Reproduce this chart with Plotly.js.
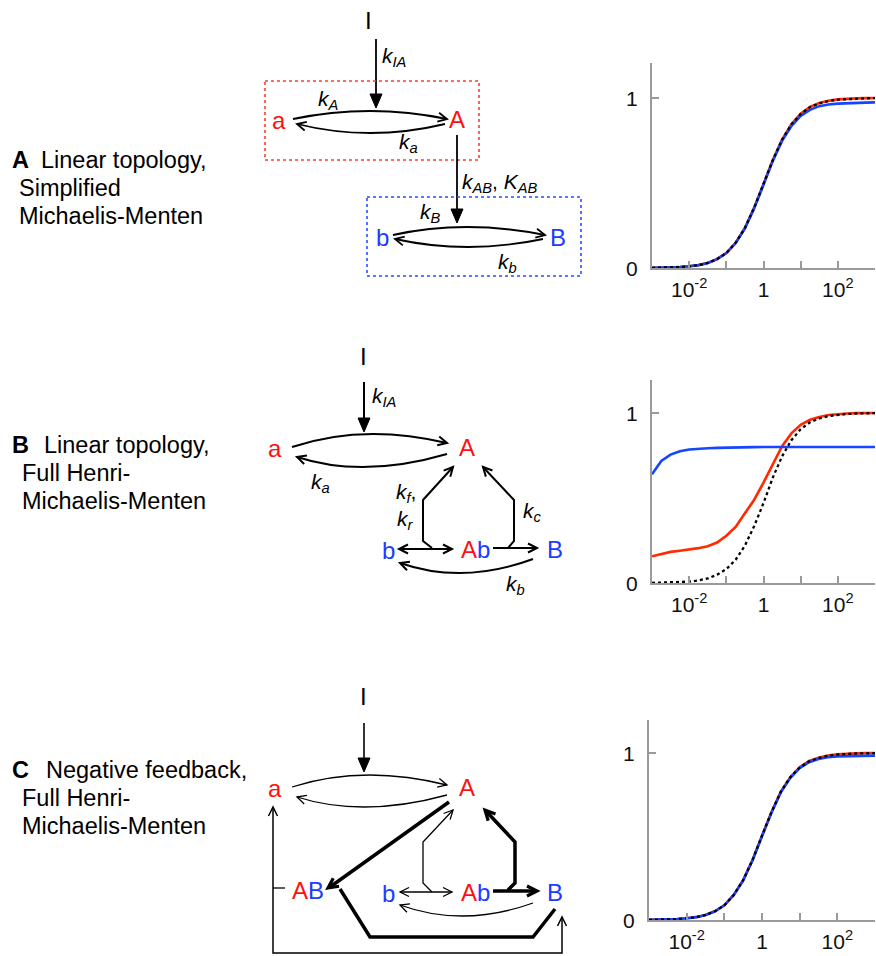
<!DOCTYPE html>
<html><head><meta charset="utf-8">
<script src="https://cdn.plot.ly/plotly-3.0.1.min.js"></script>
<style>html,body{margin:0;padding:0;background:#fff}</style>
</head><body><div id="plot" style="width:876px;height:956px"></div>
<script>
// ---------------- DATA ----------------
const inputX = [0.001,0.00178,0.00316,0.00562,0.01,0.0178,0.0316,0.0562,0.1,0.178,0.316,0.562,1,1.78,3.16,5.62,10,17.8,31.6,56.2,100,178,316,562,1000];
const tickVals = [0.01,0.1,1,10,100,1000];
const tickText = ['10<sup>-2</sup>','','1','','10<sup>2</sup>',''];
const yTickVals = [0,1];
const yTickText = ['0','1'];

const aRed   = [0.001,0.002,0.003,0.006,0.010,0.017,0.030,0.052,0.088,0.148,0.235,0.355,0.495,0.635,0.755,0.845,0.908,0.948,0.970,0.984,0.992,0.996,0.998,0.999,1.000];
const aBlue  = [0.001,0.002,0.003,0.006,0.010,0.017,0.030,0.052,0.088,0.147,0.233,0.352,0.490,0.630,0.748,0.835,0.895,0.930,0.952,0.962,0.967,0.970,0.972,0.973,0.974];
const aBlack = [0.001,0.002,0.003,0.006,0.010,0.017,0.030,0.052,0.088,0.148,0.235,0.355,0.495,0.635,0.755,0.845,0.906,0.946,0.968,0.982,0.990,0.994,0.997,0.998,0.999];

const bRed   = [0.157,0.172,0.183,0.190,0.196,0.205,0.216,0.238,0.278,0.330,0.410,0.490,0.590,0.700,0.805,0.880,0.930,0.960,0.977,0.988,0.994,0.997,0.999,1.000,1.000];
const bBlue  = [0.640,0.718,0.755,0.775,0.785,0.790,0.793,0.795,0.797,0.798,0.799,0.799,0.800,0.800,0.800,0.800,0.800,0.800,0.800,0.800,0.800,0.800,0.800,0.800,0.800];
const bBlack = [0.001,0.002,0.003,0.005,0.008,0.015,0.027,0.048,0.082,0.137,0.220,0.335,0.470,0.620,0.745,0.840,0.905,0.945,0.968,0.982,0.990,0.994,0.997,0.998,0.999];

const cRed   = [0.001,0.002,0.003,0.006,0.010,0.017,0.030,0.052,0.088,0.150,0.238,0.360,0.505,0.645,0.768,0.855,0.915,0.952,0.972,0.985,0.992,0.996,0.998,0.999,1.000];
const cBlue  = [0.001,0.002,0.003,0.006,0.010,0.017,0.030,0.052,0.088,0.150,0.237,0.358,0.502,0.642,0.764,0.850,0.910,0.945,0.964,0.975,0.980,0.982,0.983,0.984,0.984];
const cBlack = [0.001,0.002,0.003,0.006,0.010,0.017,0.030,0.052,0.088,0.150,0.238,0.360,0.505,0.645,0.768,0.855,0.913,0.950,0.970,0.983,0.991,0.995,0.997,0.998,0.999];

// ---------------- STYLE ----------------
const FONT = 'Liberation Sans, Arial, Helvetica, sans-serif';
const LRED = '#ff2a00', LBLUE = '#1446ff';
const TRED = '#ff1010', TBLUE = '#1a3cff';
const W = 876, H = 956;

function traces(xa, ya, r, b, k) {
  return [
    {x: inputX, y: r, xaxis: xa, yaxis: ya, mode: 'lines', line: {color: LRED, width: 2.6}, showlegend: false, hoverinfo: 'skip'},
    {x: inputX, y: b, xaxis: xa, yaxis: ya, mode: 'lines', line: {color: LBLUE, width: 2.6}, showlegend: false, hoverinfo: 'skip'},
    {x: inputX, y: k, xaxis: xa, yaxis: ya, mode: 'lines', line: {color: '#000', width: 2.3, dash: 'dot'}, showlegend: false, hoverinfo: 'skip'}
  ];
}
const data = [].concat(
  traces('x', 'y', aRed, aBlue, aBlack),
  traces('x2', 'y2', bRed, bBlue, bBlack),
  traces('x3', 'y3', cRed, cBlue, cBlack),
  [{x: [], y: [], xaxis: 'x4', yaxis: 'y4', type: 'scatter', showlegend: false, hoverinfo: 'skip'}]
);

function xAxis(l, r, anchor) {
  return {type: 'log', domain: [l / W, r / W], range: [-3, 3], anchor: anchor,
    showline: true, linecolor: '#9a9a9a', linewidth: 2, mirror: false,
    ticks: 'inside', ticklen: 7, tickwidth: 2, tickcolor: '#9a9a9a',
    tickvals: tickVals, ticktext: tickText, showgrid: false, zeroline: false,
    tickfont: {family: FONT, size: 21, color: '#111'}, ticklabelstandoff: 2, fixedrange: true};
}
function yAxis(top, y1, y0, anchor) {
  return {domain: [1 - y0 / H, 1 - top / H], range: [0, (y0 - top) / (y0 - y1)], anchor: anchor,
    showline: true, linecolor: '#9a9a9a', linewidth: 2,
    ticks: 'inside', ticklen: 7, tickwidth: 2, tickcolor: '#9a9a9a',
    tickvals: yTickVals, ticktext: yTickText, showgrid: false, zeroline: false,
    tickfont: {family: FONT, size: 21, color: '#111'}, ticklabelstandoff: 8, ticklabelshift: 1, fixedrange: true};
}

// ---------------- DIAGRAMS ----------------
const shapes = [], annos = [];
const R = {xref: 'x4', yref: 'y4'};
function poly(pts, w) {
  shapes.push(Object.assign({type: 'path', path: 'M' + pts.map(p => p[0] + ',' + p[1]).join(' L'),
    line: {color: '#000', width: w}}, R));
}
function quad(p0, c, p1, w) {
  shapes.push(Object.assign({type: 'path', path: `M${p0[0]},${p0[1]} Q${c[0]},${c[1]} ${p1[0]},${p1[1]}`,
    line: {color: '#000', width: w}}, R));
}
function head(tip, from, w, len, half, filled) {
  const dx = tip[0] - from[0], dy = tip[1] - from[1], L = Math.hypot(dx, dy);
  const ux = dx / L, uy = dy / L, bx = tip[0] - ux * len, by = tip[1] - uy * len, nx = -uy, ny = ux;
  const p = `M${bx + nx * half},${by + ny * half} L${tip[0]},${tip[1]} L${bx - nx * half},${by - ny * half}` + (filled ? ' Z' : '');
  const s = Object.assign({type: 'path', path: p, line: {color: '#000', width: filled ? 1 : w}}, R);
  if (filled) s.fillcolor = '#000';
  shapes.push(s);
}
function chev(tip, from, w, len, half) { head(tip, from, w, len || 9, half || 4.5, false); }
function tri(tip, from) { head(tip, from, 1, 14, 6, true); }
function box(x0, y0, x1, y1, col) {
  shapes.push(Object.assign({type: 'rect', x0: x0, y0: y0, x1: x1, y1: y1, line: {color: col, width: 1.6, dash: 'dot'}}, R));
}
function txt(x, y, t, size, col, anchor) {
  annos.push({x: x / W, y: 1 - y / H, xref: 'paper', yref: 'paper', text: t, showarrow: false,
    xanchor: anchor || 'center', yanchor: 'middle',
    borderpad: 0, borderwidth: 0, font: {family: FONT, size: size, color: col || '#000'}});
}
const red = s => `<span style="color:${TRED}">${s}</span>`;
const blue = s => `<span style="color:${TBLUE}">${s}</span>`;
const k = (main, sub) => `<i>${main}<sub>${sub}</sub></i>`;
const SP = 24, KS = 21, LS = 23.5;

// Panel labels
function label(y1, letter, l1, l2, l3, x1, x2) {
  txt(12, y1, '<b>' + letter + '</b>', LS, '#000', 'left');
  txt(x1, y1, l1, LS, '#000', 'left');
  txt(x2, y1 + 28, l2, LS, '#000', 'left');
  txt(x2, y1 + 56, l3, LS, '#000', 'left');
}
label(160, 'A', 'Linear topology,', 'Simplified', 'Michaelis-Menten', 41, 19);
label(445, 'B', 'Linear topology,', 'Full Henri-', 'Michaelis-Menten', 44, 22);
label(770, 'C', 'Negative feedback,', 'Full Henri-', 'Michaelis-Menten', 46, 22);

// Panel A diagram
txt(368, 21, 'I', SP);
poly([[376, 39], [376, 100]], 1.8); tri([376, 108], [376, 39]);
txt(382, 57, k('k', 'IA'), KS, '#000', 'left');
box(265, 81, 479, 160, '#ff3b2f');
txt(279, 120, red('a'), SP); txt(457, 119, red('A'), SP);
quad([293, 119], [370, 103], [447, 119], 1.8); chev([447, 119], [370, 103], 1.8);
quad([445, 124], [370, 142], [297, 124], 1.8); chev([297, 124], [370, 142], 1.8);
txt(328, 100, k('k', 'A'), KS); txt(408, 143, k('k', 'a'), KS);
poly([[457, 135], [457, 215]], 1.8); tri([457, 223], [457, 135]);
txt(462, 183, k('k', 'AB') + ', ' + k('K', 'AB'), KS, '#000', 'left');
box(367, 197, 581, 276, '#2a4dff');
txt(382, 237, blue('b'), SP); txt(558, 237, blue('B'), SP);
quad([393, 235], [465, 219], [545, 235], 1.8); chev([545, 235], [465, 219], 1.8);
quad([543, 239], [467, 255], [395, 239], 1.8); chev([395, 239], [467, 255], 1.8);
txt(430, 213, k('k', 'B'), KS); txt(507, 263, k('k', 'b'), KS);

// Panel B diagram
txt(363, 356, 'I', SP);
poly([[364, 382], [364, 424]], 2); tri([364, 432], [364, 382]);
txt(372, 397, k('k', 'IA'), KS, '#000', 'left');
txt(275, 448, red('a'), SP); txt(467, 447, red('A'), SP);
quad([292, 447], [363, 423], [447, 443], 2); chev([447, 443], [363, 423], 2);
quad([447, 454], [363, 478.5], [297, 457], 2); chev([297, 457], [363, 478.5], 2);
txt(320, 483, k('k', 'a'), KS);
poly([[432, 548], [423, 541], [423, 500], [453, 467]], 2); chev([453, 467], [423, 500], 2);
poly([[508, 548], [514, 541], [514, 500], [483, 467]], 2); chev([483, 467], [514, 500], 2);
txt(406, 493, k('k', 'f') + ',', KS); txt(405, 520, k('k', 'r'), KS); txt(532, 512, k('k', 'c'), KS);
txt(388, 550, blue('b'), SP); txt(475, 549, red('A') + blue('b'), SP); txt(555, 549, blue('B'), SP);
poly([[399, 549], [452, 549]], 2); chev([399, 549], [452, 549], 2); chev([452, 549], [399, 549], 2);
poly([[493, 548], [537, 548]], 2); chev([537, 548], [493, 548], 2);
quad([533, 559], [463, 585], [400, 563], 2); chev([400, 563], [463, 585], 2);
txt(515, 585, k('k', 'b'), KS);

// Panel C diagram
txt(363, 696, 'I', SP);
poly([[364, 723], [364, 764]], 1.6); tri([364, 772], [364, 723]);
txt(275, 788, red('a'), SP); txt(467, 787, red('A'), SP);
quad([292, 787], [363, 764], [447, 785], 1.3); chev([447, 785], [363, 764], 1.3);
quad([447, 795], [363, 818], [297, 797], 1.3); chev([297, 797], [363, 818], 1.3);
poly([[449, 802], [330, 887]], 3.5); chev([328, 888], [449, 802], 3.2, 10, 5);
txt(308, 890, red('A') + blue('B'), SP);
poly([[273, 888], [285, 888]], 1.3);
poly([[273, 808], [273, 953], [562, 953], [562, 918]], 1.5);
chev([273, 807], [273, 860], 1.5); chev([562, 917], [562, 950], 1.5);
poly([[340, 889], [370, 937], [533, 937], [555, 909]], 3.5);
poly([[432, 892], [423, 883], [423, 842], [453, 810]], 1.3); chev([453, 810], [423, 842], 1.3);
poly([[508, 890], [515, 883], [515, 842], [485, 810]], 3.5); chev([485, 810], [515, 842], 3.2, 10, 5);
txt(388, 893, blue('b'), SP); txt(475, 892, red('A') + blue('b'), SP); txt(555, 892, blue('B'), SP);
poly([[400, 892], [452, 892]], 1.3); chev([400, 892], [452, 892], 1.3); chev([452, 892], [400, 892], 1.3);
poly([[493, 891], [535, 891]], 3.5); chev([537, 891], [493, 891], 3.2, 10, 5);
quad([533, 903], [463, 928], [400, 905], 1.3); chev([400, 905], [463, 928], 1.3);

// ---------------- LAYOUT ----------------
const layout = {
  width: W, height: H, margin: {l: 0, r: 0, t: 0, b: 0, pad: 0},
  paper_bgcolor: '#fff', plot_bgcolor: 'rgba(0,0,0,0)', showlegend: false,
  font: {family: FONT, color: '#000'},
  xaxis: xAxis(652, 875, 'y'), yaxis: yAxis(63, 98, 268, 'x'),
  xaxis2: xAxis(652, 875, 'y2'), yaxis2: yAxis(380, 413, 583, 'x2'),
  xaxis3: xAxis(649, 875, 'y3'), yaxis3: yAxis(720, 753, 920, 'x3'),
  xaxis4: {domain: [0, 1], range: [0, W], anchor: 'y4', visible: false, fixedrange: true},
  yaxis4: {domain: [0, 1], range: [H, 0], anchor: 'x4', visible: false, fixedrange: true},
  shapes: shapes, annotations: annos
};
Plotly.newPlot('plot', data, layout, {staticPlot: true, displayModeBar: false});
</script></body></html>
